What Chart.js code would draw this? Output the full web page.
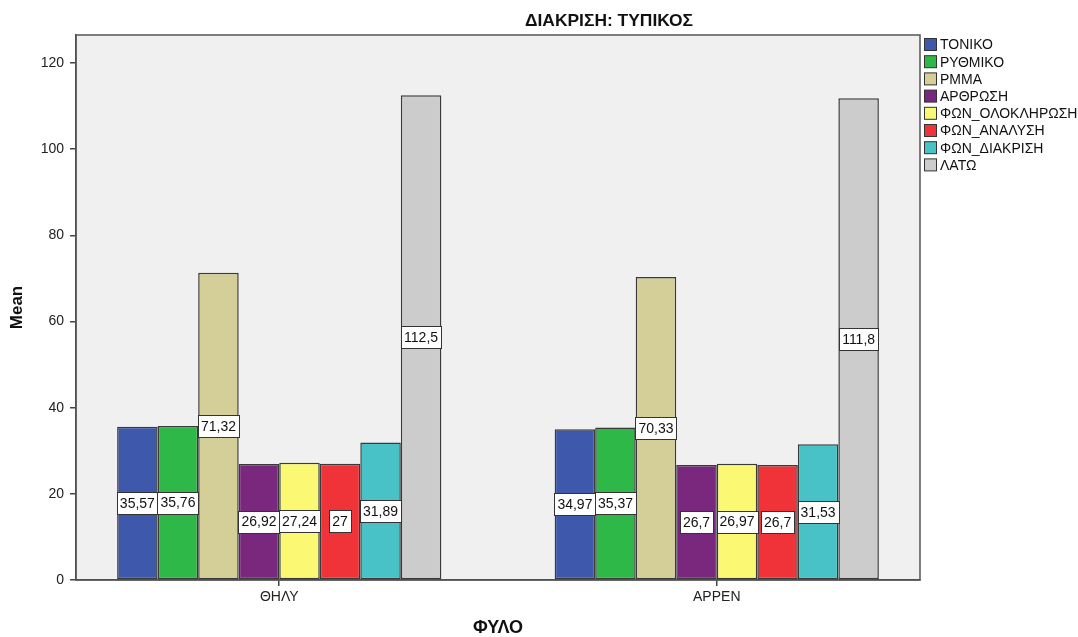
<!DOCTYPE html>
<html>
<head>
<meta charset="utf-8">
<script src="https://cdn.jsdelivr.net/npm/chart.js@4/dist/chart.umd.min.js"></script>
<style>
  html, body { margin: 0; padding: 0; background: #fff; }
  #wrap { width: 1078px; height: 637px; }
</style>
</head>
<body>
<div id="wrap"><canvas id="c" width="1078" height="637"></canvas></div>
<script>
// Group labels on the x axis
const groups = ['ΘΗΛΥ', 'ΑΡΡΕΝ'];

// Series names and mean values per group
const seriesNames = ['ΤΟΝΙΚΟ', 'ΡΥΘΜΙΚΟ', 'ΡΜΜΑ', 'ΑΡΘΡΩΣΗ', 'ΦΩΝ_ΟΛΟΚΛΗΡΩΣΗ', 'ΦΩΝ_ΑΝΑΛΥΣΗ', 'ΦΩΝ_ΔΙΑΚΡΙΣΗ', 'ΛΑΤΩ'];
const tonikoValues = [35.57, 34.97];
const rythmikoValues = [35.76, 35.37];
const rmmaValues = [71.32, 70.33];
const arthrosiValues = [26.92, 26.7];
const fonOlokliroshValues = [27.24, 26.97];
const fonAnalysiValues = [27, 26.7];
const fonDiakrisiValues = [31.89, 31.53];
const latoValues = [112.5, 111.8];

// Y tick values
const yTicks = [0, 20, 40, 60, 80, 100, 120];

const seriesValues = [tonikoValues, rythmikoValues, rmmaValues, arthrosiValues,
  fonOlokliroshValues, fonAnalysiValues, fonDiakrisiValues, latoValues];
const seriesColors = ['#3E58AC', '#2EB848', '#D4CF98', '#7A287D', '#FBF873', '#EF3338', '#48C2C6', '#CCCCCC'];

const FONT = 'Arial, "Liberation Sans", sans-serif';

const datasets = seriesNames.map((name, i) => ({
  label: name,
  data: seriesValues[i].map((v, g) => ({ x: g + 1, y: v })),
  backgroundColor: seriesColors[i],
  borderColor: '#3a3a3a',
  borderWidth: 1.5,
  borderSkipped: false,
  barPercentage: 1,
  categoryPercentage: 0.741
}));

const fmt = v => String(v).replace('.', ',');

// Plot background, frame, title, legend and value boxes
const decor = {
  id: 'decor',
  beforeDraw(chart) {
    const { ctx, chartArea: a } = chart;
    ctx.save();
    ctx.fillStyle = '#F0F0F0';
    ctx.fillRect(a.left, a.top, a.right - a.left, a.bottom - a.top);
    ctx.restore();
  },
  afterDatasetsDraw(chart) {
    const { ctx, chartArea: a } = chart;
    ctx.save();
    // frame
    ctx.strokeStyle = '#555';
    ctx.lineWidth = 1.5;
    ctx.strokeRect(a.left, a.top, a.right - a.left, a.bottom - a.top);

    // value boxes centred on each bar
    ctx.font = '14px ' + FONT;
    ctx.textAlign = 'center';
    ctx.textBaseline = 'middle';
    chart.data.datasets.forEach((ds, di) => {
      const meta = chart.getDatasetMeta(di);
      meta.data.forEach((bar, j) => {
        const txt = fmt(ds.data[j].y);
        const w = Math.round(ctx.measureText(txt).width + 6);
        const h = 22;
        const cx = bar.x;
        const cy = (bar.y + bar.base) / 2;
        const x0 = Math.round(cx - w / 2) + 0.5;
        const y0 = Math.round(cy - h / 2) + 0.5;
        ctx.fillStyle = '#fff';
        ctx.fillRect(x0, y0, w, h);
        ctx.strokeStyle = '#333';
        ctx.lineWidth = 1;
        ctx.strokeRect(x0, y0, w, h);
        ctx.fillStyle = '#111';
        ctx.fillText(txt, cx, cy + 1);
      });
    });

    // title, horizontally condensed
    ctx.font = 'bold 17px ' + FONT;
    ctx.fillStyle = '#111';
    ctx.textAlign = 'center';
    ctx.textBaseline = 'middle';
    const title = 'ΔΙΑΚΡΙΣΗ: ΤΥΠΙΚΟΣ';
    const tw = ctx.measureText(title).width;
    ctx.save();
    ctx.translate(609, 21);
    ctx.scale(168 / tw, 1);
    ctx.fillText(title, 0, 0);
    ctx.restore();

    // legend
    ctx.font = '14px ' + FONT;
    ctx.textAlign = 'left';
    chart.data.datasets.forEach((ds, i) => {
      const y = 45 + i * 17.2;
      ctx.fillStyle = ds.backgroundColor;
      ctx.fillRect(924.5, y - 6.5, 12, 12);
      ctx.strokeStyle = '#333';
      ctx.lineWidth = 1;
      ctx.strokeRect(924.5, y - 6.5, 12, 12);
      ctx.fillStyle = '#111';
      ctx.fillText(ds.label, 940, y + 0.5);
    });
    ctx.restore();
  }
};

new Chart(document.getElementById('c'), {
  type: 'bar',
  data: { datasets },
  plugins: [decor],
  options: {
    responsive: false,
    animation: false,
    devicePixelRatio: 1,
    layout: { padding: { left: 0, top: 35, right: 158, bottom: 0 } },
    plugins: {
      legend: { display: false },
      title: { display: false },
      tooltip: { enabled: false }
    },
    scales: {
      x: {
        type: 'linear',
        offset: false,
        min: 0.5355,
        max: 2.4645,
        afterBuildTicks: s => { s.ticks = groups.map((g, i) => ({ value: i + 1 })); },
        afterFit: s => { s.height = 57; },
        ticks: {
          callback: v => groups[v - 1],
          color: '#222',
          font: { family: FONT, size: 14 },
          padding: 3,
          maxRotation: 0,
          autoSkip: false
        },
        grid: { offset: false, drawOnChartArea: false, tickLength: 6, color: '#444', lineWidth: 1.5 },
        border: { display: true, color: '#444', width: 1.5 },
        title: {
          display: true,
          text: 'ΦΥΛΟ',
          color: '#111',
          font: { family: FONT, size: 18, weight: 'bold' },
          padding: { top: 0, bottom: -2 }
        }
      },
      y: {
        min: 0,
        max: 126.5,
        afterBuildTicks: s => { s.ticks = yTicks.map(v => ({ value: v })); },
        afterFit: s => { s.width = 76; },
        ticks: {
          color: '#222',
          font: { family: FONT, size: 14 },
          padding: 6,
          includeBounds: false
        },
        grid: { drawOnChartArea: false, tickLength: 6, color: '#444', lineWidth: 1.5 },
        border: { display: true, color: '#444', width: 1.5 },
        title: {
          display: true,
          text: 'Mean',
          color: '#111',
          font: { family: FONT, size: 17, weight: 'bold' },
          padding: { top: 7, bottom: 0 }
        }
      }
    }
  }
});
</script>
</body>
</html>
